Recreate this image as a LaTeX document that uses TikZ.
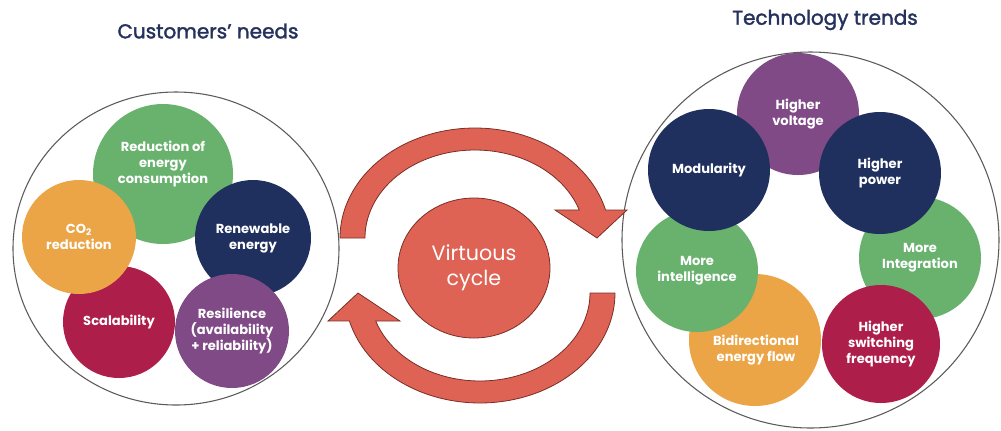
\documentclass[tikz,border=0pt]{standalone}
\usepackage{fontspec}
\setmainfont{Poppins}
\newfontfamily\headfont{Poppins}[FakeBold=1.8]
\usetikzlibrary{shapes.geometric}

\definecolor{cgreen}{HTML}{68B26E}
\definecolor{cnavy}{HTML}{1F2F5E}
\definecolor{corange}{HTML}{EBA546}
\definecolor{ccrimson}{HTML}{AD1E4B}
\definecolor{cpurple}{HTML}{7F4A86}
\definecolor{cred}{HTML}{DF6355}
\definecolor{credline}{HTML}{7A2E26}
\definecolor{ctitle}{HTML}{25325C}
\definecolor{cring}{HTML}{5A5A5A}

\tikzset{
  bubble/.style={circle, inner sep=0pt, text=white, align=center,
    font=\fontsize{9.8}{12}\selectfont\bfseries},
  bubtext/.style={inner sep=0pt, text=white, align=center,
    font=\fontsize{9.8}{12}\selectfont\bfseries},
  ring/.style={ellipse, draw=cring, line width=0.8pt, inner sep=0pt},
  heading/.style={text=ctitle, font=\headfont\fontsize{15}{18}\selectfont},
  cyclearrow/.style={fill=cred, draw=credline, line width=0.6pt, line join=miter},
}

\begin{document}
\begin{tikzpicture}[x=0.75pt, y=-0.75pt]
\useasboundingbox (0,0) rectangle (1001,430);

% headings
\node[heading] (hL) at (208,31) {Customers’ needs};
\node[heading] (hR) at (825,20) {Technology trends};

% outer rings
\node[ring, minimum width=244.5pt, minimum height=234.75pt] (ringL) at (176,248.5) {};
\node[ring, minimum width=282.75pt, minimum height=282pt] (ringR) at (810.5,240) {};

% customers' needs
\node[bubble, fill=cgreen, minimum size=105pt] (reduc) at (163,174) {};
\node[bubtext] (reducT) at (163,164) {Reduction of\\energy\\consumption};
\node[bubble, fill=ccrimson, minimum size=84pt] (scal) at (119,322) {Scalability};
\node[bubble, fill=corange, minimum size=85.5pt] (co2) at (79,237) {CO\textsubscript{2}\\reduction};
\node[bubble, fill=cnavy, minimum size=87pt] (renew) at (253,238) {Renewable\\energy};
\node[bubble, fill=cpurple, minimum size=85.5pt] (resil) at (232,331) {Resilience\\(availability\\+ reliability)};

% technology trends
\node[bubble, fill=cpurple, minimum size=91.5pt] (volt) at (798,114) {Higher\\voltage};
\node[bubble, fill=cgreen, minimum size=91.5pt] (integ) at (920,258) {More\\Integration};
\node[bubble, fill=corange, minimum size=99pt] (bidir) at (755,340) {};
\node[bubtext] (bidirT) at (756,350) {Bidirectional\\energy flow};
\node[bubble, fill=cgreen, minimum size=91.5pt] (intel) at (697,271) {More\\intelligence};
\node[bubble, fill=cnavy, minimum size=91.5pt] (modul) at (709,170) {Modularity};
\node[bubble, fill=cnavy, minimum size=91.5pt] (power) at (880,173) {Higher\\power};
\node[bubble, fill=ccrimson, minimum size=88.5pt] (switch) at (881,344) {Higher\\switching\\frequency};

% circular arrows around the centre
\draw[cyclearrow]
  plot[domain=180:14.7, samples=80] ({475+135*cos(\x)}, {238-110*sin(\x)})
  -- (627,210) -- (597,238) -- (555,210)
  -- plot[domain=18.6:180, samples=80] ({475+110*cos(\x)}, {238-88*sin(\x)})
  -- cycle;
\begin{scope}[rotate around={180:(477.5,265.5)}]
\draw[cyclearrow]
  plot[domain=180:14.7, samples=80] ({475+135*cos(\x)}, {238-110*sin(\x)})
  -- (627,210) -- (597,238) -- (555,210)
  -- plot[domain=18.6:180, samples=80] ({475+110*cos(\x)}, {238-88*sin(\x)})
  -- cycle;
\end{scope}

% centre
\node[ellipse, fill=cred, draw=credline, line width=0.6pt, inner sep=0pt,
  minimum width=114pt, minimum height=105pt, text=white, align=center,
  font=\fontsize{15.5}{19}\selectfont] (virt) at (474,268) {Virtuous\\cycle};
\end{tikzpicture}
\end{document}
